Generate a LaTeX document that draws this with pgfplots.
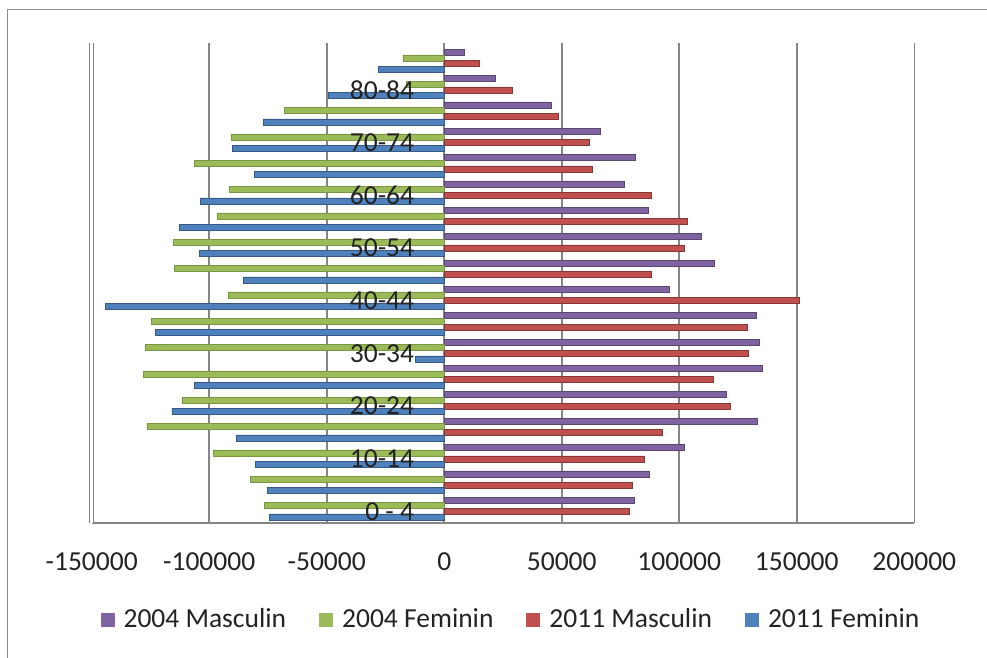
\documentclass[border=0pt]{standalone}
\usepackage{pgfplots}
\usepackage{pgfplotstable}
\pgfplotsset{compat=1.18}
\usepackage{fontspec}
\setmainfont{Carlito}
\definecolor{cpurple}{HTML}{8064A2}
\definecolor{cgreen}{HTML}{9BBB59}
\definecolor{cred}{HTML}{C0504D}
\definecolor{cblue}{HTML}{4F81BD}
\definecolor{gridgray}{RGB}{134,134,134}
\definecolor{framegray}{RGB}{140,140,140}
\definecolor{txt}{RGB}{35,35,35}

% i = age group index (0 = 0-4, ..., 17 = 85+)
\pgfplotstableread{
i  m04     f04      m11     f11
0  81000   -76600   78800   -74300
1  87100   -82500   79900   -75400
2  102200  -98400   85100   -80400
3  133100  -126500  92900   -88500
4  119900  -111600  121700  -115900
5  135400  -127900  114600  -106200
6  134200  -127200  129500  -12300
7  132600  -124700  128800  -122800
8  95700   -92000   151200  -144100
9  114900  -114700  87900   -85400
10 109400  -115200  102100  -104200
11 86900   -96700   103300  -112600
12 76700   -91500   88100   -103800
13 81400   -106200  62800   -80700
14 66400   -90800   61800   -90300
15 45400   -68100   48640   -77100
16 21700   -16000   28800   -49200
17 8640    -17600   14760   -27900
}\pop

\newcommand{\bigfont}{\fontsize{27.5bp}{32bp}\selectfont}
\tikzset{agelabel/.style={anchor=east, inner sep=0pt, font=\bigfont, text=txt, xshift=-30bp, yshift=-3bp}}

\begin{document}
\bigfont
\begin{tikzpicture}
\path[use as bounding box] (0,0) rectangle (987bp,658bp);
\draw[framegray, line width=1.3bp] (7.3bp,-5bp) -- (7.3bp,648.7bp) -- (995bp,648.7bp);
\begin{axis}[
  at={(91.7bp,134.7bp)}, anchor=south west,
  scale only axis, width=822.6bp, height=480bp,
  xmin=-150000, xmax=200000, ymin=-0.56, ymax=17.66,
  axis x line*=bottom, axis y line*=left,
  x axis line style={-, draw=gridgray, line width=1.6bp},
  y axis line style={-, draw=gridgray, line width=1.1bp, double=white, double distance=3bp},
  xmajorgrids, grid style={gridgray, line width=1.6bp},
  major tick length=0pt,
  scaled x ticks=false,
  xtick={-150000,-100000,-50000,0,50000,100000,150000,200000},
  xticklabels={-150000,-100000,-50000,0,50000,100000,150000,200000},
  ytick=\empty,
  /pgf/number format/assume math mode=true,
  xticklabel style={font=\bigfont, text=txt, inner sep=0pt, anchor=north, yshift=-29bp},
  legend columns=4,
  legend image code/.code={\fill[#1, draw=none] (0bp,-7bp) rectangle (14bp,7bp);},
  legend style={at={(0.5085,-0.2015)}, anchor=center, draw=none, fill=none,
    font=\bigfont, text=txt,
    nodes={inner sep=0pt},
    /tikz/every odd column/.append style={column sep=9bp},
    /tikz/every even column/.append style={column sep=33bp}},
  clip=false,
]
\addplot[xbar, bar shift=0pt, bar width=6bp, fill=cpurple, draw=cpurple!70!black, line width=0.5bp]
  table[x=m04, y expr=\thisrow{i}+0.32] {\pop};
\addplot[xbar, bar shift=0pt, bar width=6bp, fill=cgreen, draw=cgreen!80!black, line width=0.5bp]
  table[x=f04, y expr=\thisrow{i}+0.11] {\pop};
\addplot[xbar, bar shift=0pt, bar width=6bp, fill=cred, draw=cred!70!black, line width=0.5bp]
  table[x=m11, y expr=\thisrow{i}-0.11] {\pop};
\addplot[xbar, bar shift=0pt, bar width=6bp, fill=cblue, draw=cblue!70!black, line width=0.5bp]
  table[x=f11, y expr=\thisrow{i}-0.32] {\pop};
\legend{2004 Masculin,2004 Feminin,2011 Masculin,2011 Feminin}
\node[agelabel] at (axis cs:0,0) {0 - 4};
\node[agelabel] at (axis cs:0,2) {10-14};
\node[agelabel] at (axis cs:0,4) {20-24};
\node[agelabel] at (axis cs:0,6) {30-34};
\node[agelabel] at (axis cs:0,8) {40-44};
\node[agelabel] at (axis cs:0,10) {50-54};
\node[agelabel] at (axis cs:0,12) {60-64};
\node[agelabel] at (axis cs:0,14) {70-74};
\node[agelabel] at (axis cs:0,16) {80-84};
\end{axis}
\end{tikzpicture}
\end{document}
